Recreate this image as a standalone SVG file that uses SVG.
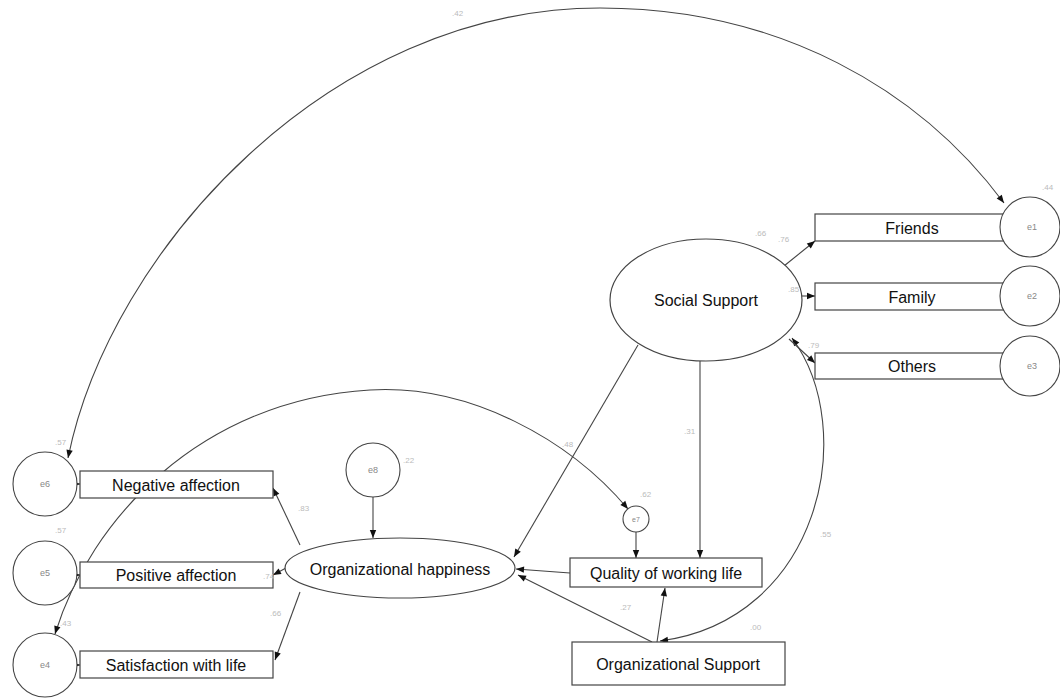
<svg xmlns="http://www.w3.org/2000/svg" width="1060" height="698" viewBox="0 0 1060 698">
<style>
.bg{fill:#ffffff}
.box{fill:#ffffff;stroke:#444;stroke-width:1.2}
.lat{fill:#ffffff;stroke:#444;stroke-width:1.2}
.err{fill:#ffffff;stroke:#444;stroke-width:1.1}
.lbl{font-family:"Liberation Sans",Arial,sans-serif;font-size:16px;fill:#111;text-anchor:middle;dominant-baseline:central}
.elbl{font-family:"Liberation Sans",Arial,sans-serif;font-size:9px;fill:#888;text-anchor:middle;dominant-baseline:central}
.coef{font-family:"Liberation Sans",Arial,sans-serif;font-size:8px;fill:#bbb}
.c{fill:none;stroke:#444;stroke-width:1.1}
</style>
<defs>
<marker id="ah" viewBox="0 0 10 10" refX="10" refY="5" markerWidth="11" markerHeight="8" orient="auto-start-reverse" markerUnits="userSpaceOnUse">
<path d="M0,1 L10,5 L0,9 z" fill="#111"/>
</marker>
</defs>
<rect class="bg" x="0" y="0" width="1060" height="698"/>

<g id="connectors">
<path class="c" d="M68,458 C110,250 330,8 600,8 C780,8 920,90 1004,203" marker-start="url(#ah)" marker-end="url(#ah)"/>
<path class="c" d="M55,634 C90,520 200,400 370,390 C470,384 570,440 628,509" marker-start="url(#ah)" marker-end="url(#ah)"/>
<path class="c" d="M792,338 C860,430 820,620 660,641" marker-start="url(#ah)" marker-end="url(#ah)"/>
<path class="c" d="M1012,227 L996,227" marker-end="url(#ah)"/>
<path class="c" d="M1012,296 L996,296" marker-end="url(#ah)"/>
<path class="c" d="M1012,366 L996,366" marker-end="url(#ah)"/>
<path class="c" d="M62,484 L80,484" marker-end="url(#ah)"/>
<path class="c" d="M62,575 L80,575" marker-end="url(#ah)"/>
<path class="c" d="M62,665 L80,665" marker-end="url(#ah)"/>
<path class="c" d="M784,266 L815,241" marker-end="url(#ah)"/>
<path class="c" d="M802,296 L815,296" marker-end="url(#ah)"/>
<path class="c" d="M789,339 L815,363" marker-end="url(#ah)"/>
<path class="c" d="M638,345 L514,557" marker-end="url(#ah)"/>
<path class="c" d="M700,361 L700,558" marker-end="url(#ah)"/>
<path class="c" d="M570,573 L516,569" marker-end="url(#ah)"/>
<path class="c" d="M652,642 L518,575" marker-end="url(#ah)"/>
<path class="c" d="M657,642 L665,588" marker-end="url(#ah)"/>
<path class="c" d="M636,532 L636,558" marker-end="url(#ah)"/>
<path class="c" d="M373,497 L373,538" marker-end="url(#ah)"/>
<path class="c" d="M300,545 L273,488" marker-end="url(#ah)"/>
<path class="c" d="M286,568 L273,575" marker-end="url(#ah)"/>
<path class="c" d="M300,592 L275,660" marker-end="url(#ah)"/>
</g>

<g id="social-support"><ellipse class="lat" cx="706" cy="300" rx="96" ry="61"/><text class="lbl" x="706" y="300">Social Support</text></g>
<g id="friends"><rect class="box" x="815" y="214" width="194" height="27"/><text class="lbl" x="912" y="228">Friends</text></g>
<g id="family"><rect class="box" x="815" y="283" width="194" height="27"/><text class="lbl" x="912" y="297">Family</text></g>
<g id="others"><rect class="box" x="815" y="353" width="194" height="26"/><text class="lbl" x="912" y="366">Others</text></g>
<g id="e1"><circle class="err" cx="1030" cy="227" r="30"/><text class="elbl" x="1032" y="227">e1</text></g>
<g id="e2"><circle class="err" cx="1030" cy="296" r="30"/><text class="elbl" x="1032" y="296">e2</text></g>
<g id="e3"><circle class="err" cx="1030" cy="366" r="30"/><text class="elbl" x="1032" y="366">e3</text></g>

<g id="e6"><circle class="err" cx="45" cy="484" r="32"/><text class="elbl" x="45" y="484">e6</text></g>
<g id="e5"><circle class="err" cx="45" cy="573" r="32"/><text class="elbl" x="45" y="573">e5</text></g>
<g id="e4"><circle class="err" cx="45" cy="665" r="32"/><text class="elbl" x="45" y="665">e4</text></g>
<g id="negative-affection"><rect class="box" x="80" y="471" width="193" height="27"/><text class="lbl" x="176" y="485">Negative affection</text></g>
<g id="positive-affection"><rect class="box" x="80" y="562" width="193" height="26"/><text class="lbl" x="176" y="575">Positive affection</text></g>
<g id="satisfaction"><rect class="box" x="80" y="651" width="193" height="27"/><text class="lbl" x="176" y="665">Satisfaction with life</text></g>

<g id="org-happiness"><ellipse class="lat" cx="400" cy="568" rx="115" ry="30"/><text class="lbl" x="400" y="569">Organizational happiness</text></g>
<g id="e8"><circle class="err" cx="373" cy="470" r="27"/><text class="elbl" x="373" y="470">e8</text></g>
<g id="e7"><circle class="err" cx="636" cy="519" r="13"/><text class="elbl" x="636" y="519" style="font-size:7px">e7</text></g>
<g id="quality-working-life"><rect class="box" x="570" y="558" width="192" height="29"/><text class="lbl" x="666" y="573">Quality of working life</text></g>
<g id="org-support"><rect class="box" x="572" y="642" width="213" height="43"/><text class="lbl" x="678" y="664">Organizational Support</text></g>

<g id="coefficients">
<text class="coef" x="452" y="16">.42</text>
<text class="coef" x="1042" y="190">.44</text>
<text class="coef" x="755" y="236">.66</text>
<text class="coef" x="778" y="242">.76</text>
<text class="coef" x="788" y="292">.85</text>
<text class="coef" x="808" y="348">.79</text>
<text class="coef" x="562" y="447">.48</text>
<text class="coef" x="684" y="434">.31</text>
<text class="coef" x="640" y="497">.62</text>
<text class="coef" x="403" y="463">.22</text>
<text class="coef" x="298" y="511">.83</text>
<text class="coef" x="263" y="579">.74</text>
<text class="coef" x="270" y="616">.66</text>
<text class="coef" x="55" y="445">.57</text>
<text class="coef" x="55" y="533">.57</text>
<text class="coef" x="60" y="626">.43</text>
<text class="coef" x="820" y="537">.55</text>
<text class="coef" x="750" y="630">.00</text>
<text class="coef" x="620" y="610">.27</text>
</g>
</svg>
